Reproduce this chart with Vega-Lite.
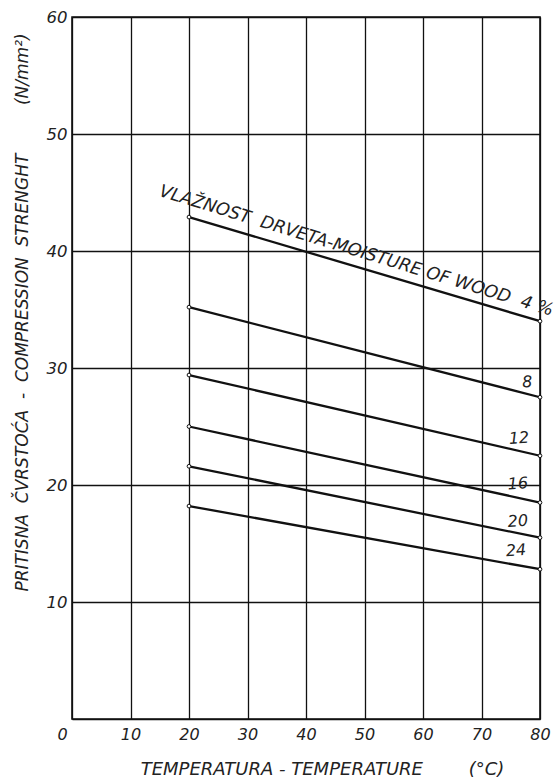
{
  "$schema": "https://vega.github.io/schema/vega-lite/v6.json",
  "autosize": "none",
  "width": 468,
  "height": 702,
  "padding": {"left": 72, "top": 17, "right": 17, "bottom": 59},
  "background": "white",
  "config": {
    "view": {"stroke": "#111", "strokeWidth": 1.6},
    "font": "DejaVu Sans"
  },
  "datasets": {
    "lines": [
      {"moisture": "4", "temp": 20, "strength": 42.9},
      {"moisture": "4", "temp": 80, "strength": 34.0},
      {"moisture": "8", "temp": 20, "strength": 35.2},
      {"moisture": "8", "temp": 80, "strength": 27.5},
      {"moisture": "12", "temp": 20, "strength": 29.4},
      {"moisture": "12", "temp": 80, "strength": 22.5},
      {"moisture": "16", "temp": 20, "strength": 25.0},
      {"moisture": "16", "temp": 80, "strength": 18.5},
      {"moisture": "20", "temp": 20, "strength": 21.6},
      {"moisture": "20", "temp": 80, "strength": 15.5},
      {"moisture": "24", "temp": 20, "strength": 18.2},
      {"moisture": "24", "temp": 80, "strength": 12.8}
    ],
    "labels": [
      {"label": "8", "temp": 77.8, "strength": 28.8},
      {"label": "12", "temp": 76.4, "strength": 24.0},
      {"label": "16", "temp": 76.2, "strength": 20.1},
      {"label": "20", "temp": 76.2, "strength": 16.9},
      {"label": "24", "temp": 75.9, "strength": 14.4}
    ],
    "title4": [
      {"label": "VLAŽNOST\u00a0 DRVETA-MOISTURE OF WOOD\u00a0 4 %", "temp": 48.6, "strength": 40.0}
    ]
  },
  "encoding": {
    "x": {
      "field": "temp", "type": "quantitative",
      "scale": {"domain": [0, 80], "nice": false, "zero": false},
      "axis": {
        "values": [0, 10, 20, 30, 40, 50, 60, 70, 80],
        "grid": true, "gridColor": "#111", "gridWidth": 1.3, "gridOpacity": 1,
        "domain": false, "ticks": false,
        "labelFont": "DejaVu Sans", "labelFontStyle": "italic", "labelFontSize": 16,
        "labelColor": "#222", "labelPadding": 7, "labelFlush": false,
        "labelOffset": {"condition": {"test": "datum.value === 0", "value": -10}, "value": 0},
        "title": "TEMPERATURA - TEMPERATURE\u00a0\u00a0\u00a0\u00a0\u00a0\u00a0\u00a0\u00a0(°C)",
        "titleFont": "DejaVu Sans", "titleFontStyle": "italic", "titleFontWeight": "normal",
        "titleFontSize": 18, "titleColor": "#222",
        "titleX": 250, "titleY": 55, "titleBaseline": "alphabetic", "titleAlign": "center"
      }
    },
    "y": {
      "field": "strength", "type": "quantitative",
      "scale": {"domain": [0, 60], "nice": false, "zero": false},
      "axis": {
        "values": [0, 10, 20, 30, 40, 50, 60],
        "labelExpr": "datum.value === 0 ? '' : datum.label",
        "grid": true, "gridColor": "#111", "gridWidth": 1.3, "gridOpacity": 1,
        "domain": false, "ticks": false,
        "labelFont": "DejaVu Sans", "labelFontStyle": "italic", "labelFontSize": 16.5,
        "labelColor": "#222", "labelPadding": 5, "labelFlush": false,
        "title": "PRITISNA\u00a0 ČVRSTOĆA\u00a0 -\u00a0 COMPRESSION\u00a0 STRENGHT\u00a0\u00a0\u00a0\u00a0\u00a0\u00a0\u00a0\u00a0\u00a0(N/mm²)",
        "titleFont": "DejaVu Sans", "titleFontStyle": "italic", "titleFontWeight": "normal",
        "titleFontSize": 17, "titleColor": "#222",
        "titleX": -50, "titleY": 295, "titleAngle": -90, "titleBaseline": "middle", "titleAlign": "center"
      }
    }
  },
  "layer": [
    {
      "data": {"name": "lines"},
      "mark": {"type": "line", "color": "#111", "strokeWidth": 2.3},
      "encoding": {"detail": {"field": "moisture"}}
    },
    {
      "data": {"name": "lines"},
      "mark": {"type": "point", "shape": "circle", "filled": true, "fill": "white", "stroke": "#111", "strokeWidth": 1, "size": 14, "opacity": 1}
    },
    {
      "data": {"name": "labels"},
      "mark": {"type": "text", "font": "DejaVu Sans", "fontStyle": "italic", "fontSize": 16, "color": "#222", "align": "center", "baseline": "middle", "angle": -4},
      "encoding": {"text": {"field": "label"}}
    },
    {
      "data": {"name": "title4"},
      "mark": {"type": "text", "font": "DejaVu Sans", "fontStyle": "italic", "fontSize": 17.5, "color": "#222", "align": "center", "baseline": "middle", "angle": 17},
      "encoding": {"text": {"field": "label"}}
    }
  ]
}
